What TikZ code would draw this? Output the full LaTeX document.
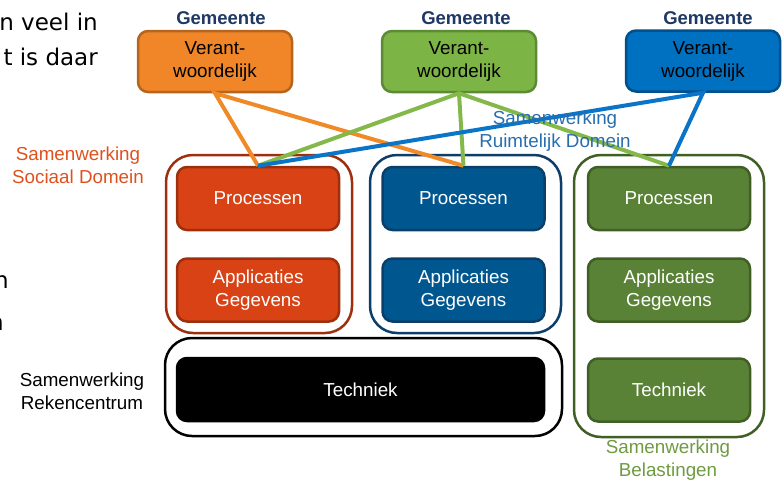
\documentclass[tikz,border=0pt]{standalone}
\usepackage{fontspec}
\setmainfont{Liberation Sans}
\newfontfamily\slidefont{DejaVu Sans}
\usetikzlibrary{positioning}
\definecolor{orangefill}{RGB}{240,134,40}
\definecolor{orangeline}{RGB}{181,101,29}
\definecolor{lgreenfill}{RGB}{125,180,70}
\definecolor{lgreenline}{RGB}{91,139,50}
\definecolor{lbluefill}{RGB}{0,112,192}
\definecolor{lblueline}{RGB}{0,80,140}
\definecolor{redfill}{RGB}{216,66,20}
\definecolor{redline}{RGB}{158,47,14}
\definecolor{bluefill}{RGB}{0,87,143}
\definecolor{blueline}{RGB}{11,63,106}
\definecolor{greenfill}{RGB}{90,130,54}
\definecolor{greenline}{RGB}{63,95,37}
\definecolor{linkorange}{RGB}{240,138,40}
\definecolor{linkgreen}{RGB}{132,184,74}
\definecolor{linkblue}{RGB}{10,116,200}
\definecolor{navy}{RGB}{31,56,100}
\definecolor{sdtext}{RGB}{224,80,30}
\definecolor{rdtext}{RGB}{40,110,175}
\definecolor{beltext}{RGB}{110,155,65}
\newcommand{\widthtop}{154pt}
\newcommand{\widthinner}{162pt}
\tikzset{
    common/.style={draw, rounded corners=10pt, line width=2.5pt, align=center, inner sep=0pt},
    topbox/.style={common, minimum width=\widthtop, minimum height=61pt, text=black},
    innerbox/.style={common, minimum width=\widthinner, minimum height=63pt, text=white},
    frame/.style={draw, rounded corners=27pt, line width=2.5pt, inner sep=0pt},
    link/.style={line width=4pt},
    caption/.style={align=center},
    gem/.style={font=\fontsize{18.5}{22}\selectfont\bfseries, text=navy},
    slide/.style={anchor=base east, inner sep=0pt, font=\fontsize{23}{28}\selectfont\slidefont}
}

\begin{document}
\begin{tikzpicture}[x=1pt, y=-1pt, font=\fontsize{18.8}{23}\selectfont]
    \useasboundingbox (0,0) rectangle (782,483);

    % tekst van de dia die half zichtbaar is
    \node[slide] (s1) at (98,30) {n veel in};
    \node[slide] (s2) at (98,65) {t is daar};
    \node[slide] (s3) at (9,288) {n};
    \node[slide] (s4) at (4,330) {n};

    % gemeenten
    \node[topbox, fill=orangefill, draw=orangeline] (vo1) at (215,61.5) {Verant-\\woordelijk};
    \node[topbox, fill=lgreenfill, draw=lgreenline] (vo2) at (459,61.5) {Verant-\\woordelijk};
    \node[topbox, fill=lbluefill, draw=lblueline] (vo3) at (703,61) {Verant-\\woordelijk};
    \node[gem] (g1) at (221,18) {Gemeente};
    \node[gem] (g2) at (466,18) {Gemeente};
    \node[gem] (g3) at (708,18) {Gemeente};

    % samenwerkingen
    \node[frame, draw=redline, minimum width=186pt, minimum height=178pt] (sd) at (259,244) {};
    \node[frame, draw=blueline, minimum width=191pt, minimum height=178pt] (rd) at (465.5,244) {};
    \node[frame, draw=greenline, minimum width=190pt, minimum height=282pt] (bel) at (669,296) {};
    \node[frame, draw=black, minimum width=397pt, minimum height=98pt] (rc) at (363.5,387) {};

    \node[innerbox, fill=redfill, draw=redline] (proc1) at (258,198.5) {Processen};
    \node[innerbox, fill=redfill, draw=redline] (appl1) at (258,290) {Applicaties\\Gegevens};
    \node[innerbox, fill=bluefill, draw=blueline] (proc2) at (463.5,198.5) {Processen};
    \node[innerbox, fill=bluefill, draw=blueline] (appl2) at (463.5,290) {Applicaties\\Gegevens};
    \node[innerbox, fill=greenfill, draw=greenline] (proc3) at (669,198.5) {Processen};
    \node[innerbox, fill=greenfill, draw=greenline] (appl3) at (669,290) {Applicaties\\Gegevens};
    \node[innerbox, fill=greenfill, draw=greenline] (tech3) at (669,390) {Techniek};
    \node[innerbox, fill=black, draw=black, minimum width=367pt] (tech1) at (360.5,389.5) {Techniek};

    % verantwoordelijkheden
    \draw[link, linkorange] (proc1.north) -- (vo1.south) -- (proc2.north);
    \draw[link, linkgreen] (proc1.north) -- (vo2.south) -- (proc3.north);
    \draw[link, linkgreen] (vo2.south) -- (proc2.north);
    \draw[link, linkblue] (proc1.north) -- (vo3.south) -- (proc3.north);

    \node[caption, text=sdtext] (lsd) at (78,165) {Samenwerking\\Sociaal Domein};
    \node[caption, text=rdtext] (lrd) at (555,131) {Samenwerking\\Ruimtelijk Domein};
    \node[caption] (lrc) at (82,391) {Samenwerking\\Rekencentrum};
    \node[caption, text=beltext] (lbel) at (668,460) {Samenwerking\\Belastingen};
\end{tikzpicture}
\end{document}
